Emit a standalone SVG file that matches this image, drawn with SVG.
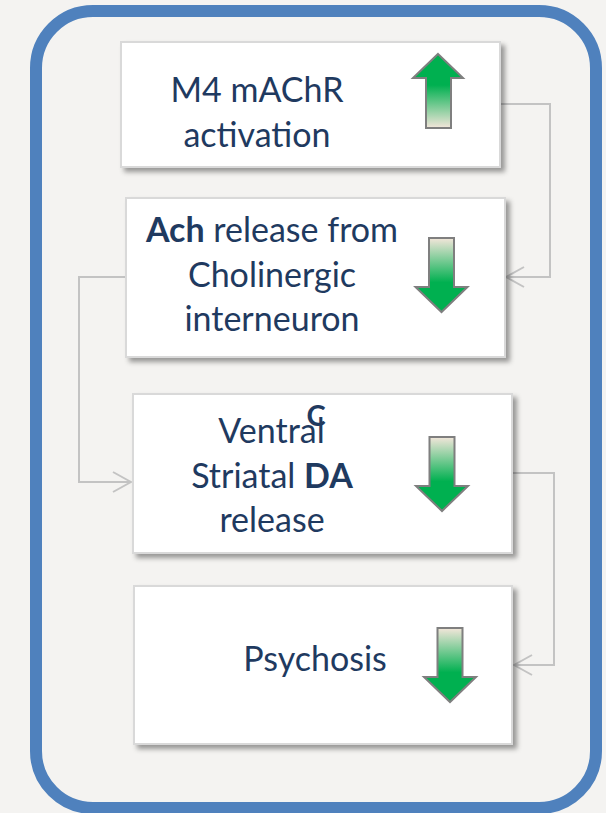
<svg xmlns="http://www.w3.org/2000/svg" width="606" height="813" viewBox="0 0 606 813">
  <style>
    .box { fill: #ffffff; stroke: #d9d9d9; stroke-width: 2; filter: url(#shadow); }
    .lbl { font-family: Lato, "Open Sans", sans-serif; font-size: 34px; fill: #1f3a60; text-anchor: middle; }
    .b { font-weight: bold; }
    .conn { fill: none; stroke: #c3c3c3; stroke-width: 2; }
    .trend { stroke: #7f7f7f; stroke-width: 2; stroke-linejoin: miter; }
  </style>
  <defs>
    <filter id="shadow" x="-10%" y="-10%" width="125%" height="130%">
      <feDropShadow dx="4" dy="4" stdDeviation="2.5" flood-color="#000000" flood-opacity="0.38"/>
    </filter>
    <linearGradient id="gradUp" x1="0" y1="0" x2="0" y2="1">
      <stop offset="0" stop-color="#00b050"/>
      <stop offset="0.42" stop-color="#00b050"/>
      <stop offset="1" stop-color="#f3e6da"/>
    </linearGradient>
    <linearGradient id="gradDown" x1="0" y1="0" x2="0" y2="1">
      <stop offset="0" stop-color="#f3e6da"/>
      <stop offset="0.6" stop-color="#00b050"/>
      <stop offset="1" stop-color="#00b050"/>
    </linearGradient>
    <path id="downArrow" class="trend" fill="url(#gradDown)" d="M-12.5,0 L12.5,0 L12.5,49 L26,49 L0,74 L-26,49 L-12.5,49 Z"/>
    <marker id="open" viewBox="0 0 20 22" refX="19" refY="11" markerWidth="20" markerHeight="22" markerUnits="userSpaceOnUse" orient="auto">
      <path d="M1,1 L19,11 L1,21" fill="none" stroke="#c3c3c3" stroke-width="2"/>
    </marker>
  </defs>

  <!-- page background and frame -->
  <rect x="0" y="0" width="606" height="813" fill="#f4f3f1"/>
  <rect x="36" y="11" width="560" height="797" rx="57" ry="57" fill="#f4f3f1" stroke="#4f81bd" stroke-width="12"/>

  <!-- connectors -->
  <g id="connectors">
    <polyline class="conn" points="500,104 550,104 550,277 506,277" marker-end="url(#open)"/>
    <polyline class="conn" points="125,277 79,277 79,482 131,482" marker-end="url(#open)"/>
    <polyline class="conn" points="512,473 554,473 554,665 514,665" marker-end="url(#open)"/>
  </g>

  <g id="node-m4">
    <rect class="box" x="121" y="42" width="379" height="125"/>
    <text class="lbl" x="257" y="102">M4 mAChR</text>
    <text class="lbl" x="257" y="147">activation</text>
    <path class="trend" fill="url(#gradUp)" d="M438,54 L463,78 L451,78 L451,128 L426,128 L426,78 L413,78 Z"/>
  </g>

  <g id="node-ach">
    <rect class="box" x="126" y="198" width="379" height="159"/>
    <text class="lbl" x="272" y="242"><tspan class="b">Ach</tspan> release from</text>
    <text class="lbl" x="272" y="287">Cholinergic</text>
    <text class="lbl" x="272" y="331">interneuron</text>
    <use href="#downArrow" transform="translate(441.5,238)"/>
  </g>

  <g id="node-da">
    <rect class="box" x="133" y="394" width="379" height="159"/>
    <text class="lbl" x="271.5" y="443">Ventral</text>
    <text class="lbl b" x="316" y="426" style="font-size:29px">C</text>
    <text class="lbl" x="272" y="488">Striatal <tspan class="b">DA</tspan></text>
    <text class="lbl" x="272" y="532">release</text>
    <use href="#downArrow" transform="translate(442,437)"/>
  </g>

  <g id="node-psychosis">
    <rect class="box" x="134" y="586" width="378" height="158"/>
    <text class="lbl" x="315" y="671">Psychosis</text>
    <use href="#downArrow" transform="translate(450,628)"/>
  </g>
</svg>
